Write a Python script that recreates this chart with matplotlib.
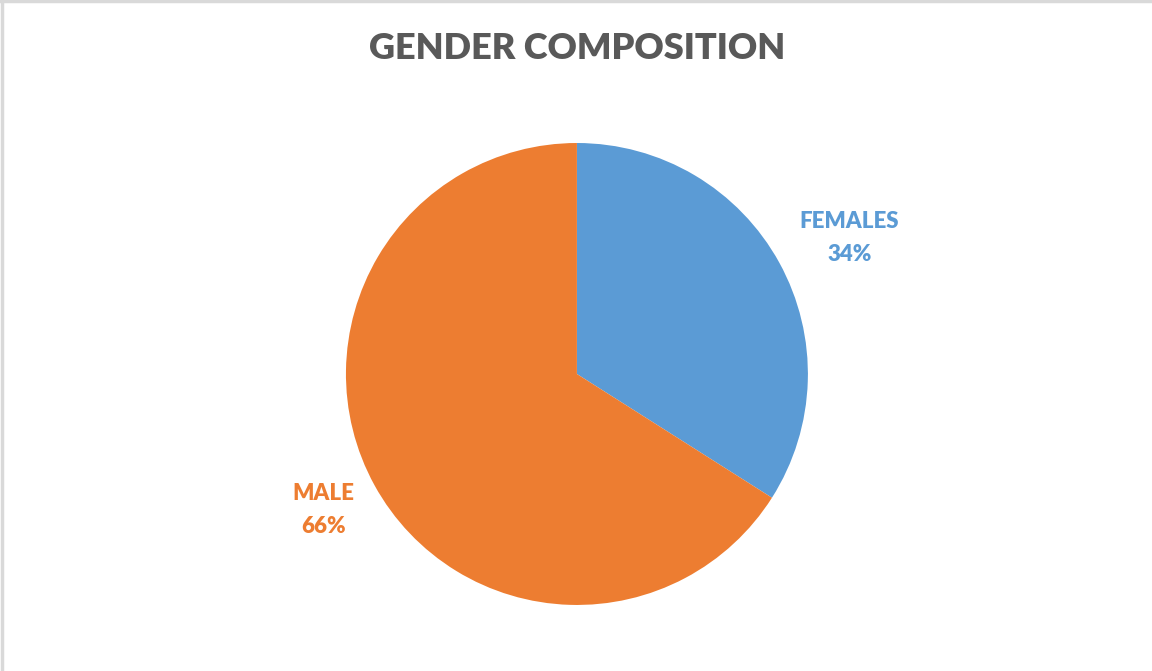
import numpy as np
import matplotlib.pyplot as plt
from matplotlib.lines import Line2D

# Gender split of respondents
labels = ['FEMALES', 'MALE']
shares = [34, 66]
colors = ['#5B9BD5', '#ED7D31']

fig = plt.figure(figsize=(11.52, 6.71), dpi=100)
fig.patch.set_facecolor('white')

# thin grey frame along top and left edges of the chart area
fig.add_artist(Line2D([0, 1], [0.998, 0.998], color='#d9d9d9', lw=2.5, transform=fig.transFigure))
fig.add_artist(Line2D([0.0015, 0.0015], [0, 1], color='#d9d9d9', lw=2.5, transform=fig.transFigure))

ax = fig.add_axes([0.3003, 0.0984, 0.4010, 0.6885])
wedges, _ = ax.pie(shares, colors=colors, startangle=90, counterclock=False,
                   wedgeprops=dict(linewidth=0), radius=1.0)
ax.set_xlim(-1, 1)
ax.set_ylim(-1, 1)
ax.set_aspect('equal')

# labels anchored just outside each wedge's mid angle, pushed away from the pie
total = sum(shares)
for w, lab, val, col in zip(wedges, labels, shares, colors):
    mid = np.deg2rad((w.theta1 + w.theta2) / 2)
    x, y = 1.1 * np.cos(mid), 1.1 * np.sin(mid)
    ha = 'left' if x > 0 else 'right'
    ax.annotate(f'{lab}\n{round(val / total * 100)}%', xy=(x, y),
                xytext=(0, 10 * np.sign(y)), textcoords='offset points',
                ha=ha, va='center', multialignment='center', color=col,
                fontsize=16, fontweight='heavy', family='Lato',
                linespacing=1.7, annotation_clip=False)

fig.text(0.5013, 0.928, 'GENDER COMPOSITION', ha='center', va='center',
         fontsize=26, fontweight='heavy', family='Lato', color='#595959')

fig.savefig('out.png', dpi=100)
